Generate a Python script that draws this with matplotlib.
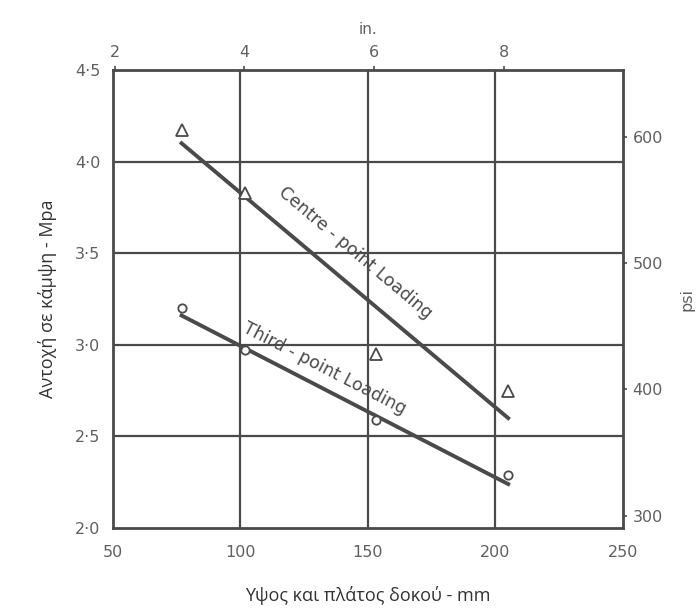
import numpy as np
import matplotlib.pyplot as plt

# beam depth/width (mm) and modulus of rupture (MPa)
size_mm = [77, 102, 153, 205]
centre_pt = [4.17, 3.83, 2.95, 2.75]
third_pt = [3.20, 2.97, 2.59, 2.29]

# fitted lines (end points)
centre_fit_x = [77, 205]
centre_fit_y = [4.10, 2.60]
third_fit_x = [77, 205]
third_fit_y = [3.16, 2.24]

x_ticks = [50, 100, 150, 200, 250]
y_ticks = [2.0, 2.5, 3.0, 3.5, 4.0, 4.5]
in_ticks = [2, 4, 6, 8]
psi_ticks = [300, 400, 500, 600]

ink = '#4a4a4a'
txt = '#606060'

plt.rcParams['font.family'] = ['DejaVu Sans']

fig = plt.figure(figsize=(7.0, 6.14), dpi=100)
ax = fig.add_axes([0.161, 0.140, 0.729, 0.746])

ax.set_xlim(50, 250)
ax.set_ylim(2.0, 4.5)

for v in [100, 150, 200]:
    ax.axvline(v, color=ink, lw=1.6, zorder=1)
for v in [2.5, 3.0, 3.5, 4.0]:
    ax.axhline(v, color=ink, lw=1.6, zorder=1)

ax.plot(centre_fit_x, centre_fit_y, color=ink, lw=2.8, zorder=3)
ax.plot(third_fit_x, third_fit_y, color=ink, lw=2.8, zorder=3)
ax.plot(size_mm, centre_pt, linestyle='none', marker='^', ms=8,
        mfc='white', mec=ink, mew=1.3, zorder=4)
ax.plot(size_mm, third_pt, linestyle='none', marker='o', ms=6,
        mfc='white', mec=ink, mew=1.3, zorder=4)

ang_c = np.degrees(np.arctan2(centre_fit_y[1] - centre_fit_y[0],
                              centre_fit_x[1] - centre_fit_x[0]))
ang_t = np.degrees(np.arctan2(third_fit_y[1] - third_fit_y[0],
                              third_fit_x[1] - third_fit_x[0]))
ax.text(145, 3.50, 'Centre - point Loading', rotation=ang_c,
        transform_rotates_text=True, rotation_mode='anchor',
        ha='center', va='center', fontsize=12.5, color=ink)
ax.text(133, 2.87, 'Third - point Loading', rotation=ang_t,
        transform_rotates_text=True, rotation_mode='anchor',
        ha='center', va='center', fontsize=12.5, color=ink)

ax.set_xticks(x_ticks)
ax.set_xticklabels([str(v) for v in x_ticks])
ax.set_yticks(y_ticks)
ax.set_yticklabels([('%.1f' % v).replace('.', '\u00b7') for v in y_ticks])
ax.tick_params(axis='x', length=0, labelsize=11.5, labelcolor=txt, pad=12)
ax.tick_params(axis='y', length=0, labelsize=11.5, labelcolor=txt, pad=9)
for s in ax.spines.values():
    s.set_color(ink)
    s.set_linewidth(2.0)

ax.set_xlabel('Υψος και πλάτος δοκού - mm', fontsize=13, color='#333333',
              labelpad=19, family='Open Sans')
ax.set_ylabel('Αντοχή σε κάμψη - Mpa', fontsize=13, color='#333333',
              labelpad=13, family='Open Sans')

top = ax.secondary_xaxis('top', functions=(lambda x: x / 25.4, lambda x: x * 25.4))
top.set_xticks(in_ticks)
top.tick_params(length=3, width=1.2, color=ink, labelsize=11.5, labelcolor=txt, pad=4)
top.set_xlabel('in.', fontsize=11, color=txt, labelpad=8)
top.spines['top'].set_visible(False)

right = ax.secondary_yaxis('right', functions=(lambda y: y * 145.04, lambda y: y / 145.04))
right.set_yticks(psi_ticks)
right.tick_params(length=3, width=1.2, color=ink, labelsize=11.5, labelcolor=txt, pad=4)
right.set_ylabel('psi', fontsize=11.5, color=txt, labelpad=12)
right.spines['right'].set_visible(False)

fig.savefig('out.png', dpi=100, facecolor='white')
